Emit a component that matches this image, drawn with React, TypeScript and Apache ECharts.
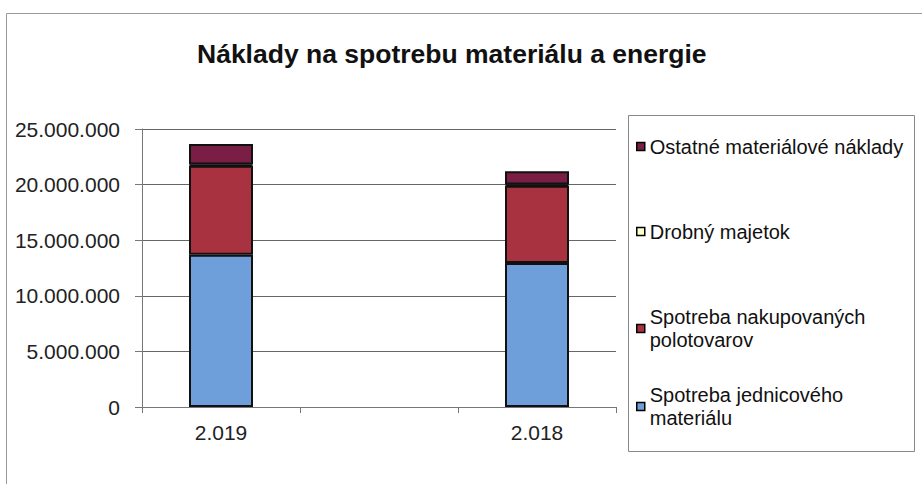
import React, { useEffect, useRef } from "react";
import * as echarts from "echarts";

const categories = ["2.019", "", "2.018"];
const seriesNames = [
  "Spotreba jednicového materiálu",
  "Spotreba nakupovaných polotovarov",
  "Drobný majetok",
  "Ostatné materiálové náklady",
];
const jednicovy = [13700000, null, 12950000];
const polotovary = [8000000, null, 6950000];
const drobny = [100000, null, 100000];
const ostatne = [1850000, null, 1200000];
const yTicks = { min: 0, max: 25000000, interval: 5000000 };

const colors = ["#6E9FDB", "#A8323F", "#FFFFCC", "#7B1E46"];
const FONT = "Liberation Sans, Arial, sans-serif";

const fmt = (v: number) => String(Math.round(v)).replace(/\B(?=(\d{3})+(?!\d))/g, ".");

const legendDisplay: Record<string, string> = {
  "Spotreba jednicového materiálu": "Spotreba jednicového\nmateriálu",
  "Spotreba nakupovaných polotovarov": "Spotreba nakupovaných\npolotovarov",
};

export default function App() {
  const ref = useRef<HTMLDivElement>(null);
  useEffect(() => {
    if (!ref.current) return;
    const chart = echarts.init(ref.current, undefined, { renderer: "svg" });
    const data = [jednicovy, polotovary, drobny, ostatne];
    const L = 23;
    const mkLegend = (name: string, top: number, twoLine: boolean) => ({
      data: [name],
      left: 636,
      top,
      orient: "vertical",
      padding: 0,
      icon: "rect",
      itemWidth: 8,
      itemHeight: 8,
      itemStyle: { borderColor: "#000", borderWidth: 1.5 },
      selectedMode: false,
      formatter: (n: string) => legendDisplay[n] || n,
      textStyle: {
        fontFamily: FONT,
        fontSize: 20,
        color: "#111",
        lineHeight: L,
        padding: twoLine ? [L, 0, 0, 0] : [0, 0, 0, 0],
      },
    });
    chart.setOption({
      animation: false,
      backgroundColor: "#fff",
      title: {
        text: "Náklady na spotrebu materiálu a energie",
        left: 192,
        top: 35,
        textStyle: { fontFamily: FONT, fontSize: 26.5, fontWeight: "bold", color: "#111" },
      },
      graphic: [
        {
          type: "rect",
          shape: { x: 6.5, y: 13.5, width: 940, height: 500 },
          style: { fill: "none", stroke: "#999", lineWidth: 1 },
          silent: true,
        },
        {
          type: "rect",
          shape: { x: 628.5, y: 115.5, width: 286, height: 336 },
          style: { fill: "none", stroke: "#888", lineWidth: 1 },
          silent: true,
        },
      ],
      legend: [
        mkLegend(seriesNames[3], 135, false),
        mkLegend(seriesNames[2], 220, false),
        mkLegend(seriesNames[1], 294, true),
        mkLegend(seriesNames[0], 372, true),
      ],
      grid: { left: 142, right: 306, top: 129, bottom: 77, containLabel: false },
      xAxis: {
        type: "category",
        data: categories,
        boundaryGap: true,
        axisLine: { lineStyle: { color: "#777", width: 1 } },
        axisTick: { show: true, alignWithLabel: false, length: 6, lineStyle: { color: "#777" } },
        axisLabel: { fontFamily: FONT, fontSize: 21, color: "#222", margin: 15 },
      },
      yAxis: {
        type: "value",
        min: yTicks.min,
        max: yTicks.max,
        interval: yTicks.interval,
        axisLine: { show: true, lineStyle: { color: "#777", width: 1 } },
        axisTick: { show: true, length: 7, lineStyle: { color: "#777" } },
        splitLine: { show: true, lineStyle: { color: "#666", width: 1 } },
        axisLabel: { fontFamily: FONT, fontSize: 21, color: "#222", margin: 22, formatter: fmt },
      },
      series: seriesNames.map((name, i) => ({
        name,
        type: "bar",
        stack: "total",
        data: data[i],
        barWidth: 64,
        itemStyle: { color: colors[i], borderColor: "#111", borderWidth: 2 },
      })),
    });
    return () => chart.dispose();
  }, []);
  return <div ref={ref} style={{ width: 922, height: 484, position: "absolute", left: 0, top: 0 }} />;
}
